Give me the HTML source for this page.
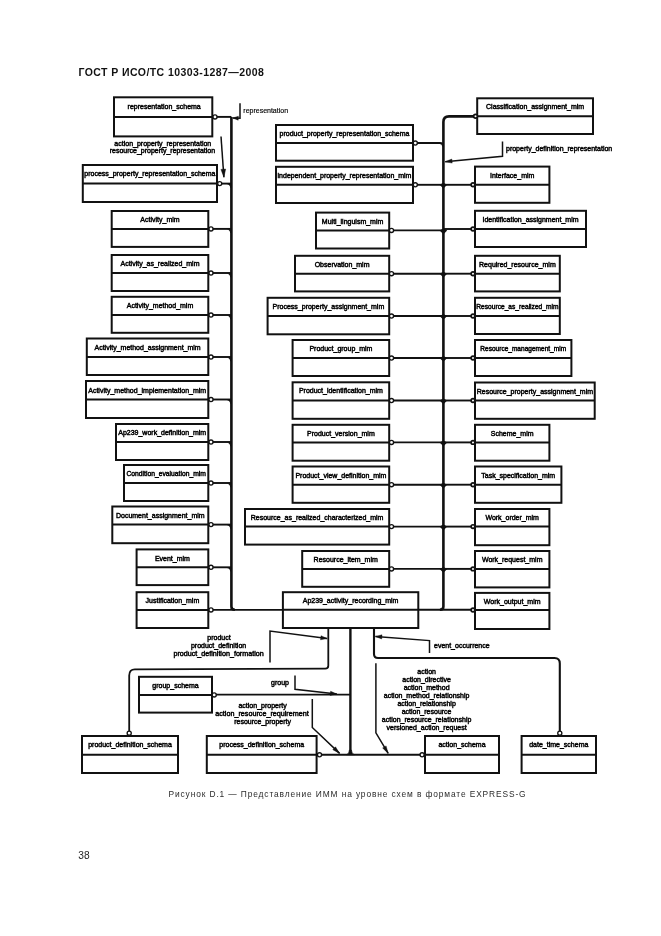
<!DOCTYPE html>
<html lang="ru"><head><meta charset="utf-8"><title>ГОСТ Р ИСО/ТС 10303-1287—2008</title>
<style>
html,body{margin:0;padding:0;background:#fff;}
body{width:661px;height:936px;position:relative;overflow:hidden;font-family:"Liberation Sans",sans-serif;}
.hdr{position:absolute;left:78.5px;top:66.3px;font-size:10.5px;font-weight:bold;color:#111;white-space:nowrap;line-height:12px;letter-spacing:0.43px;}
.cap{position:absolute;left:168.5px;top:789px;font-size:8.4px;color:#2b2b2b;white-space:nowrap;line-height:11px;letter-spacing:0.88px;}
.pg{position:absolute;left:78.2px;top:849.9px;font-size:10.2px;color:#222;line-height:11px;letter-spacing:0.2px;}
#wrap{position:absolute;left:0;top:0;width:661px;height:936px;will-change:transform;filter:grayscale(1) blur(0.3px);}
</style></head><body><div id="wrap">
<div class="hdr">ГОСТ Р ИСО/ТС 10303-1287—2008</div>
<svg width="661" height="936" viewBox="0 0 661 936" style="position:absolute;left:0;top:0">
<g fill="none" stroke="#111" stroke-linecap="butt" stroke-linejoin="round">
<path d="M231.4 117 V606.5 Q231.4 609.8 234.9 609.8" stroke-width="2.6"/>
<path d="M213 609.85 H282.9" stroke-width="1.9"/>
<path d="M479 116.4 H449 Q443.4 116.4 443.4 122 V606.5 Q443.4 609.8 439.9 609.8" stroke-width="2.6"/>
<path d="M418.3 609.8 H474" stroke-width="1.9"/>
<path d="M215.0 116.9 H231.4" stroke-width="1.9"/>
<path d="M219.7 183.6 H231.4" stroke-width="1.9"/>
<path d="M226.8 184.29999999999998 Q229.9 184.7 230.20000000000002 187.79999999999998 L231.4 187.79999999999998 L231.4 183.6 Z" fill="#111" stroke="none"/>
<path d="M211.0 228.9 H231.4" stroke-width="1.9"/>
<path d="M226.8 229.6 Q229.9 230.0 230.20000000000002 233.1 L231.4 233.1 L231.4 228.9 Z" fill="#111" stroke="none"/>
<path d="M211.0 273 H231.4" stroke-width="1.9"/>
<path d="M226.8 273.7 Q229.9 274.1 230.20000000000002 277.2 L231.4 277.2 L231.4 273 Z" fill="#111" stroke="none"/>
<path d="M211.0 315 H231.4" stroke-width="1.9"/>
<path d="M226.8 315.7 Q229.9 316.1 230.20000000000002 319.2 L231.4 319.2 L231.4 315 Z" fill="#111" stroke="none"/>
<path d="M211.0 357 H231.4" stroke-width="1.9"/>
<path d="M226.8 357.7 Q229.9 358.1 230.20000000000002 361.2 L231.4 361.2 L231.4 357 Z" fill="#111" stroke="none"/>
<path d="M211.0 399.5 H231.4" stroke-width="1.9"/>
<path d="M226.8 400.2 Q229.9 400.6 230.20000000000002 403.7 L231.4 403.7 L231.4 399.5 Z" fill="#111" stroke="none"/>
<path d="M211.0 442 H231.4" stroke-width="1.9"/>
<path d="M226.8 442.7 Q229.9 443.1 230.20000000000002 446.2 L231.4 446.2 L231.4 442 Z" fill="#111" stroke="none"/>
<path d="M211.0 483 H231.4" stroke-width="1.9"/>
<path d="M226.8 483.7 Q229.9 484.1 230.20000000000002 487.2 L231.4 487.2 L231.4 483 Z" fill="#111" stroke="none"/>
<path d="M211.0 524.6 H231.4" stroke-width="1.9"/>
<path d="M226.8 525.3000000000001 Q229.9 525.7 230.20000000000002 528.8000000000001 L231.4 528.8000000000001 L231.4 524.6 Z" fill="#111" stroke="none"/>
<path d="M211.0 567.3 H231.4" stroke-width="1.9"/>
<path d="M226.8 568.0 Q229.9 568.4 230.20000000000002 571.5 L231.4 571.5 L231.4 567.3 Z" fill="#111" stroke="none"/>
<path d="M415.3 143 H439.9 Q443.09999999999997 143 443.09999999999997 146.5" stroke-width="1.9"/>
<path d="M415.3 184.8 H443.4" stroke-width="1.9"/>
<path d="M439.59999999999997 184.8 L443.4 182.8 L447.2 184.8 L443.4 188.60000000000002 Z" fill="#111" stroke="none"/>
<path d="M391.5 230.4 H443.4" stroke-width="1.9"/>
<path d="M439.59999999999997 230.4 L443.4 228.4 L447.2 230.4 L443.4 234.20000000000002 Z" fill="#111" stroke="none"/>
<path d="M391.5 273.7 H443.4" stroke-width="1.9"/>
<path d="M439.59999999999997 273.7 L443.4 271.7 L447.2 273.7 L443.4 277.5 Z" fill="#111" stroke="none"/>
<path d="M391.5 316 H443.4" stroke-width="1.9"/>
<path d="M439.59999999999997 316 L443.4 314.0 L447.2 316 L443.4 319.8 Z" fill="#111" stroke="none"/>
<path d="M391.5 358 H443.4" stroke-width="1.9"/>
<path d="M439.59999999999997 358 L443.4 356.0 L447.2 358 L443.4 361.8 Z" fill="#111" stroke="none"/>
<path d="M391.5 400.5 H443.4" stroke-width="1.9"/>
<path d="M439.59999999999997 400.5 L443.4 398.5 L447.2 400.5 L443.4 404.3 Z" fill="#111" stroke="none"/>
<path d="M391.5 442.4 H443.4" stroke-width="1.9"/>
<path d="M439.59999999999997 442.4 L443.4 440.4 L447.2 442.4 L443.4 446.2 Z" fill="#111" stroke="none"/>
<path d="M391.5 484.7 H443.4" stroke-width="1.9"/>
<path d="M439.59999999999997 484.7 L443.4 482.7 L447.2 484.7 L443.4 488.5 Z" fill="#111" stroke="none"/>
<path d="M391.5 526.6 H443.4" stroke-width="1.9"/>
<path d="M439.59999999999997 526.6 L443.4 524.6 L447.2 526.6 L443.4 530.4 Z" fill="#111" stroke="none"/>
<path d="M391.5 568.9 H443.4" stroke-width="1.9"/>
<path d="M439.59999999999997 568.9 L443.4 566.9 L447.2 568.9 L443.4 572.6999999999999 Z" fill="#111" stroke="none"/>
<path d="M472.3 184.8 H443.4" stroke-width="1.9"/>
<path d="M472.3 229 H443.4" stroke-width="1.9"/>
<path d="M472.3 273.7 H443.4" stroke-width="1.9"/>
<path d="M472.3 316 H443.4" stroke-width="1.9"/>
<path d="M472.3 358 H443.4" stroke-width="1.9"/>
<path d="M472.3 400.5 H443.4" stroke-width="1.9"/>
<path d="M472.3 442.4 H443.4" stroke-width="1.9"/>
<path d="M472.3 484.7 H443.4" stroke-width="1.9"/>
<path d="M472.3 526.6 H443.4" stroke-width="1.9"/>
<path d="M472.3 568.9 H443.4" stroke-width="1.9"/>
<path d="M328.3 627.4 V665.8 Q328.3 668.7 325.3 668.7 L135 669.4 Q129.2 669.3 129.2 675.5 V733" stroke-width="1.7999999999999998"/>
<path d="M350.4 627.4 V754.6" stroke-width="2.4"/>
<path d="M320 754.7 H421" stroke-width="1.9"/>
<path d="M346.2 754.7 Q349.2 754.0 349.4 750.0 L351.4 750.0 Q351.6 754.0 354.6 754.7 Z" fill="#111" stroke-width="0.6"/>
<path d="M215 694.6 H350" stroke-width="1.9"/>
<path d="M374 627.4 V654 Q374 658 378 658 H554.5 Q559.8 658 559.8 663.5 V733" stroke-width="2.1"/>
</g>
<g fill="none" stroke="#111" stroke-width="1.5" stroke-linejoin="miter">
<path d="M240 103.3 L240 118.2 L232.8 118.0"/>
<path d="M232.8 118.0 L238.4 116.2 L238.2 120.2 Z" fill="#111" stroke-width="0.4"/>
<path d="M221 136.5 L223.9 177.2"/>
<path d="M223.9 177.2 L220.9 169.4 L225.7 169.0 Z" fill="#111" stroke-width="0.4"/>
<path d="M502.5 141.6 L502.5 156.2 L445.2 161.7"/>
<path d="M445.2 161.7 L451.8 159.0 L452.2 163.1 Z" fill="#111" stroke-width="0.4"/>
<path d="M270 662.5 L270 631 L327.2 638.6"/>
<path d="M327.2 638.6 L320.5 639.8 L321.0 635.7 Z" fill="#111" stroke-width="0.4"/>
<path d="M429.5 653 L429.5 640.6 L375.4 636.4"/>
<path d="M375.4 636.4 L382.0 634.8 L381.7 639.0 Z" fill="#111" stroke-width="0.4"/>
<path d="M295 675.5 L295 689.3 L336.8 694"/>
<path d="M336.8 694.0 L330.1 695.4 L330.6 691.2 Z" fill="#111" stroke-width="0.4"/>
<path d="M312.3 699 L312.3 727.5 L339.6 753.4"/>
<path d="M339.6 753.4 L332.8 749.7 L335.5 746.8 Z" fill="#111" stroke-width="0.4"/>
<path d="M375.9 663.3 L375.9 732.8 L388.2 753.4"/>
<path d="M388.2 753.4 L382.6 748.0 L386.1 745.9 Z" fill="#111" stroke-width="0.4"/>
</g>
<g fill="#fff" stroke="#111" stroke-width="2.0">
<rect x="114" y="97.3" width="98.3" height="39.1"/>
<path d="M114 116.9 H212.3"/>
<rect x="82.8" y="165" width="134.2" height="37.0"/>
<path d="M82.8 183.6 H217"/>
<rect x="111.7" y="211" width="96.6" height="35.9"/>
<path d="M111.7 228.9 H208.3"/>
<rect x="111.7" y="255" width="96.6" height="36.0"/>
<path d="M111.7 273 H208.3"/>
<rect x="111.7" y="296.8" width="96.6" height="36.0"/>
<path d="M111.7 315 H208.3"/>
<rect x="86.8" y="338.5" width="121.5" height="36.5"/>
<path d="M86.8 357 H208.3"/>
<rect x="86" y="381" width="122.3" height="37.0"/>
<path d="M86 399.5 H208.3"/>
<rect x="116" y="424" width="92.3" height="36.0"/>
<path d="M116 442 H208.3"/>
<rect x="124" y="465" width="84.3" height="36.0"/>
<path d="M124 483 H208.3"/>
<rect x="112.3" y="506.5" width="96.0" height="36.7"/>
<path d="M112.3 524.6 H208.3"/>
<rect x="136.6" y="549.4" width="71.7" height="35.7"/>
<path d="M136.6 567.3 H208.3"/>
<rect x="136.6" y="592.2" width="71.7" height="35.8"/>
<path d="M136.6 609.9 H208.3"/>
<rect x="276" y="125" width="137.0" height="35.7"/>
<path d="M276 143 H413"/>
<rect x="276" y="166.8" width="137.0" height="36.2"/>
<path d="M276 184.8 H413"/>
<rect x="316" y="212.6" width="73.2" height="35.9"/>
<path d="M316 230.4 H389.2"/>
<rect x="295" y="255.8" width="94.2" height="35.6"/>
<path d="M295 273.7 H389.2"/>
<rect x="267.6" y="297.8" width="121.6" height="36.5"/>
<path d="M267.6 316 H389.2"/>
<rect x="292.6" y="340" width="96.6" height="36.0"/>
<path d="M292.6 358 H389.2"/>
<rect x="292.6" y="382.3" width="96.6" height="36.5"/>
<path d="M292.6 400.5 H389.2"/>
<rect x="292.6" y="424.8" width="96.6" height="35.9"/>
<path d="M292.6 442.4 H389.2"/>
<rect x="292.6" y="466.5" width="96.6" height="36.3"/>
<path d="M292.6 484.7 H389.2"/>
<rect x="245" y="509" width="144.2" height="35.6"/>
<path d="M245 526.6 H389.2"/>
<rect x="302.2" y="551" width="87.0" height="35.8"/>
<path d="M302.2 568.9 H389.2"/>
<rect x="282.9" y="592.2" width="135.4" height="35.8"/>
<path d="M282.9 609.8 H418.3"/>
<rect x="477.2" y="98.3" width="115.8" height="35.7"/>
<path d="M477.2 116.3 H593"/>
<rect x="475.0" y="166.6" width="74.4" height="36.2"/>
<path d="M475.0 184.8 H549.4"/>
<rect x="475.0" y="210.8" width="111.0" height="36.2"/>
<path d="M475.0 229 H586"/>
<rect x="475.0" y="255.8" width="84.8" height="35.6"/>
<path d="M475.0 273.7 H559.8"/>
<rect x="475.0" y="297.8" width="84.8" height="36.2"/>
<path d="M475.0 316 H559.8"/>
<rect x="475.0" y="340" width="96.4" height="36.0"/>
<path d="M475.0 358 H571.4"/>
<rect x="475.0" y="382.5" width="119.7" height="36.3"/>
<path d="M475.0 400.5 H594.7"/>
<rect x="475.0" y="424.8" width="74.4" height="35.9"/>
<path d="M475.0 442.4 H549.4"/>
<rect x="475.0" y="466.5" width="86.4" height="36.3"/>
<path d="M475.0 484.7 H561.4"/>
<rect x="475.0" y="509" width="74.4" height="36.2"/>
<path d="M475.0 526.6 H549.4"/>
<rect x="475.0" y="551" width="74.4" height="36.4"/>
<path d="M475.0 568.9 H549.4"/>
<rect x="475.0" y="592.9" width="74.4" height="36.1"/>
<path d="M475.0 610 H549.4"/>
<rect x="139" y="676.8" width="73.0" height="35.8"/>
<path d="M139 694.9 H212"/>
<rect x="82" y="736" width="96.0" height="37.0"/>
<path d="M82 754.8 H178"/>
<rect x="206.8" y="736" width="109.8" height="37.0"/>
<path d="M206.8 754.8 H316.6"/>
<rect x="425" y="736" width="74.0" height="37.0"/>
<path d="M425 754.8 H499"/>
<rect x="521.6" y="736" width="74.4" height="37.0"/>
<path d="M521.6 754.8 H596"/>
</g>
<g fill="none" stroke="#111">
<circle cx="215.0" cy="116.9" r="2.05" stroke-width="1.35" fill="#fff"/>
<circle cx="219.7" cy="183.6" r="2.05" stroke-width="1.35" fill="#fff"/>
<circle cx="211.0" cy="228.9" r="2.05" stroke-width="1.35" fill="#fff"/>
<circle cx="211.0" cy="273" r="2.05" stroke-width="1.35" fill="#fff"/>
<circle cx="211.0" cy="315" r="2.05" stroke-width="1.35" fill="#fff"/>
<circle cx="211.0" cy="357" r="2.05" stroke-width="1.35" fill="#fff"/>
<circle cx="211.0" cy="399.5" r="2.05" stroke-width="1.35" fill="#fff"/>
<circle cx="211.0" cy="442" r="2.05" stroke-width="1.35" fill="#fff"/>
<circle cx="211.0" cy="483" r="2.05" stroke-width="1.35" fill="#fff"/>
<circle cx="211.0" cy="524.6" r="2.05" stroke-width="1.35" fill="#fff"/>
<circle cx="211.0" cy="567.3" r="2.05" stroke-width="1.35" fill="#fff"/>
<circle cx="211.0" cy="609.9" r="2.05" stroke-width="1.35" fill="#fff"/>
<circle cx="415.3" cy="143" r="2.05" stroke-width="1.35" fill="#fff"/>
<circle cx="415.3" cy="184.8" r="2.05" stroke-width="1.35" fill="#fff"/>
<circle cx="391.5" cy="230.4" r="2.05" stroke-width="1.35" fill="#fff"/>
<circle cx="391.5" cy="273.7" r="2.05" stroke-width="1.35" fill="#fff"/>
<circle cx="391.5" cy="316" r="2.05" stroke-width="1.35" fill="#fff"/>
<circle cx="391.5" cy="358" r="2.05" stroke-width="1.35" fill="#fff"/>
<circle cx="391.5" cy="400.5" r="2.05" stroke-width="1.35" fill="#fff"/>
<circle cx="391.5" cy="442.4" r="2.05" stroke-width="1.35" fill="#fff"/>
<circle cx="391.5" cy="484.7" r="2.05" stroke-width="1.35" fill="#fff"/>
<circle cx="391.5" cy="526.6" r="2.05" stroke-width="1.35" fill="#fff"/>
<circle cx="391.5" cy="568.9" r="2.05" stroke-width="1.35" fill="#fff"/>
<circle cx="475.5" cy="116.3" r="1.85" stroke-width="1.7" fill="#fff"/>
<circle cx="473.0" cy="184.8" r="1.85" stroke-width="1.7" fill="#fff"/>
<circle cx="473.0" cy="229" r="1.85" stroke-width="1.7" fill="#fff"/>
<circle cx="473.0" cy="273.7" r="1.85" stroke-width="1.7" fill="#fff"/>
<circle cx="473.0" cy="316" r="1.85" stroke-width="1.7" fill="#fff"/>
<circle cx="473.0" cy="358" r="1.85" stroke-width="1.7" fill="#fff"/>
<circle cx="473.0" cy="400.5" r="1.85" stroke-width="1.7" fill="#fff"/>
<circle cx="473.0" cy="442.4" r="1.85" stroke-width="1.7" fill="#fff"/>
<circle cx="473.0" cy="484.7" r="1.85" stroke-width="1.7" fill="#fff"/>
<circle cx="473.0" cy="526.6" r="1.85" stroke-width="1.7" fill="#fff"/>
<circle cx="473.0" cy="568.9" r="1.85" stroke-width="1.7" fill="#fff"/>
<circle cx="473.0" cy="610" r="1.85" stroke-width="1.7" fill="#fff"/>
<circle cx="214.2" cy="694.9" r="2.05" stroke-width="1.35" fill="#fff"/>
<circle cx="129.2" cy="733.2" r="2.05" stroke-width="1.35" fill="#fff"/>
<circle cx="319.5" cy="754.8" r="2.05" stroke-width="1.35" fill="#fff"/>
<circle cx="422.1" cy="754.8" r="2.05" stroke-width="1.35" fill="#fff"/>
<circle cx="559.8" cy="733.2" r="2.05" stroke-width="1.35" fill="#fff"/>
</g>
<g font-family="Liberation Sans, sans-serif" font-size="7.0" fill="#000" stroke="#000" stroke-width="0.45" text-anchor="middle">
<text x="164.2" y="109.1">representation_schema</text>
<text x="149.9" y="176.3">process_property_representation_schema</text>
<text x="160.0" y="222.3">Activity_mim</text>
<text x="160.0" y="266.4">Activity_as_realized_mim</text>
<text x="160.0" y="308.3">Activity_method_mim</text>
<text x="147.6" y="350.1">Activity_method_assignment_mim</text>
<text x="147.2" y="392.6">Activity_method_implementation_mim</text>
<text x="162.2" y="435.4">Ap239_work_definition_mim</text>
<text x="166.2" y="476.4" textLength="79.5" lengthAdjust="spacingAndGlyphs">Condition_evaluation_mim</text>
<text x="160.3" y="517.9">Document_assignment_mim</text>
<text x="172.4" y="560.7">Event_mim</text>
<text x="172.4" y="603.4">Justification_mim</text>
<text x="344.5" y="136.0">product_property_representation_schema</text>
<text x="344.5" y="177.8">independent_property_representation_mim</text>
<text x="352.6" y="223.5">Multi_linguism_mim</text>
<text x="342.1" y="266.8">Observation_mim</text>
<text x="328.4" y="308.9">Process_property_assignment_mim</text>
<text x="340.9" y="351.0">Product_group_mim</text>
<text x="340.9" y="393.4">Product_identification_mim</text>
<text x="340.9" y="435.6">Product_version_mim</text>
<text x="340.9" y="477.6">Product_view_definition_mim</text>
<text x="317.1" y="519.8">Resource_as_realized_characterized_mim</text>
<text x="345.7" y="562.0">Resource_item_mim</text>
<text x="350.6" y="603.0">Ap239_activity_recording_mim</text>
<text x="535.1" y="108.8">Classification_assignment_mim</text>
<text x="512.2" y="177.7">Interface_mim</text>
<text x="530.5" y="221.9">Identification_assignment_mim</text>
<text x="517.4" y="266.8">Required_resource_mim</text>
<text x="517.4" y="308.9" textLength="82.2" lengthAdjust="spacingAndGlyphs">Resource_as_realized_mim</text>
<text x="523.2" y="351.0" textLength="85.8" lengthAdjust="spacingAndGlyphs">Resource_management_mim</text>
<text x="534.9" y="393.5">Resource_property_assignment_mim</text>
<text x="512.2" y="435.6">Scheme_mim</text>
<text x="518.2" y="477.6">Task_specification_mim</text>
<text x="512.2" y="519.8">Work_order_mim</text>
<text x="512.2" y="562.0">Work_request_mim</text>
<text x="512.2" y="603.5">Work_output_mim</text>
<text x="175.5" y="688.2">group_schema</text>
<text x="130.0" y="747.1">product_definition_schema</text>
<text x="261.7" y="747.1">process_definition_schema</text>
<text x="462.0" y="747.1">action_schema</text>
<text x="558.8" y="747.1">date_time_schema</text>
<text x="243.3" y="113.2" text-anchor="start" stroke-width="0.15">representation</text>
<text x="162.8" y="145.5" text-anchor="middle">action_property_representation</text>
<text x="162.4" y="153.3" text-anchor="middle">resource_property_representation</text>
<text x="506" y="151" text-anchor="start">property_definition_representation</text>
<text x="219" y="640.3" text-anchor="middle">product</text>
<text x="218.6" y="648.2" text-anchor="middle">product_definition</text>
<text x="218.6" y="656.3" text-anchor="middle" textLength="90.3" lengthAdjust="spacingAndGlyphs">product_definition_formation</text>
<text x="434" y="648.4" text-anchor="start">event_occurrence</text>
<text x="280" y="685" text-anchor="middle">group</text>
<text x="262.6" y="708" text-anchor="middle">action_property</text>
<text x="262" y="715.8" text-anchor="middle" textLength="93.5" lengthAdjust="spacingAndGlyphs">action_resource_requirement</text>
<text x="262.6" y="724" text-anchor="middle">resource_property</text>
<text x="426.6" y="674" text-anchor="middle">action</text>
<text x="426.6" y="682" text-anchor="middle">action_directive</text>
<text x="426.6" y="689.7" text-anchor="middle">action_method</text>
<text x="426.6" y="697.6" text-anchor="middle">action_method_relationship</text>
<text x="426.6" y="706" text-anchor="middle">action_relationship</text>
<text x="426.6" y="714" text-anchor="middle">action_resource</text>
<text x="426.6" y="721.6" text-anchor="middle">action_resource_relationship</text>
<text x="426.6" y="729.8" text-anchor="middle">versioned_action_request</text>
</g>
</svg>
<div class="cap">Рисунок D.1 — Представление ИММ на уровне схем в формате EXPRESS-G</div>
<div class="pg">38</div>
</div></body></html>
